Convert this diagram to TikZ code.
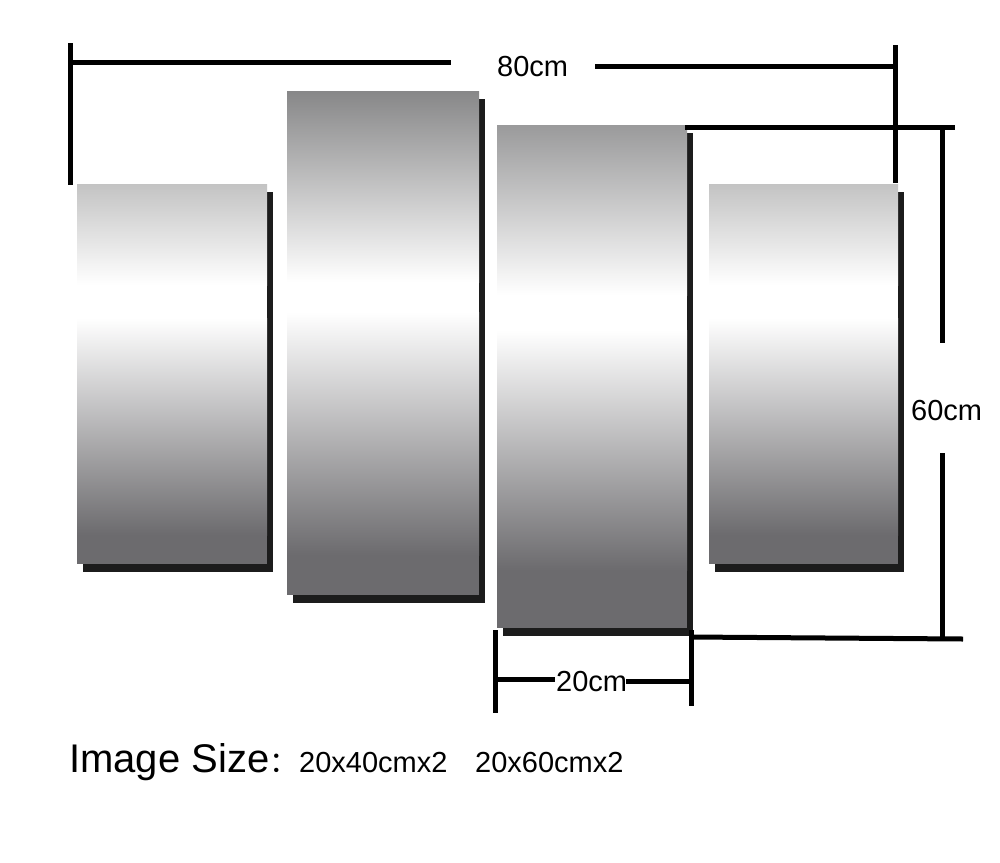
\documentclass[tikz,border=0pt]{standalone}
\usepackage{fontspec}
\usepackage{graphicx}
\setmainfont{Liberation Sans}
\newfontfamily\cjkfont{Noto Sans CJK SC}
\definecolor{shadowc}{HTML}{1C1C1C}
\definecolor{topA}{HTML}{C3C3C3}
\definecolor{topB}{HTML}{878788}
\definecolor{topC}{HTML}{9A9A9B}
\definecolor{darkc}{HTML}{6C6B6E}
\tikzset{
  dimline/.style={line width=5pt, black},
  dimlabel/.style={anchor=base west, inner sep=0pt, font=\fontsize{29}{32}\selectfont},
  sizelabel/.style={anchor=base west, inner sep=0pt, font=\fontsize{29}{32}\selectfont}
}
% panel: left, top, right, bottom, topcolor, whitestart, whiteend, darkstart
\newcommand{\mypanel}[8]{%
  \fill[shadowc] (#1+6,#2+8) rectangle (#3+6,#4+8);
  \shade[top color=#5, bottom color=white] (#1,#2) rectangle (#3,#6);
  \fill[white] (#1,#6-0.5) rectangle (#3,#7+0.5);
  \shade[top color=white, bottom color=darkc] (#1,#7) rectangle (#3,#8);
  \fill[darkc] (#1,#8-0.5) rectangle (#3,#4);
}
\begin{document}
\begin{tikzpicture}[x=1pt,y=-1pt]
\useasboundingbox[fill=white] (0,0) rectangle (1000,862);
% panels
\mypanel{77}{184}{267}{564}{topA}{285}{318}{535}
\mypanel{287}{91}{479}{595}{topB}{282}{312}{555}
\mypanel{497}{125}{687}{628}{topC}{295}{330}{570}
\mypanel{709}{184}{898}{564}{topA}{285}{318}{535}
% named points
\coordinate (tl1) at (70,43);   \coordinate (tl2) at (70,185);
\coordinate (hl1) at (70,62);   \coordinate (hl2) at (451,62);
\coordinate (hr1) at (595,66);  \coordinate (hr2) at (895,66);
\coordinate (tr1) at (895,45);  \coordinate (tr2) at (895,183);
\coordinate (vt1) at (685,127); \coordinate (vt2) at (955,127);
\coordinate (vu1) at (942,127); \coordinate (vu2) at (942,343);
\coordinate (vd1) at (942,453); \coordinate (vd2) at (942,637);
\coordinate (vb1) at (690,637); \coordinate (vb2) at (963,639);
\coordinate (bl1) at (495,630); \coordinate (bl2) at (495,713);
\coordinate (br1) at (691,630); \coordinate (br2) at (691,706);
\coordinate (bh1) at (495,679); \coordinate (bh2) at (555,679);
\coordinate (bh3) at (626,681); \coordinate (bh4) at (691,681);
% dimension lines
\draw[dimline] (tl1) -- (tl2);
\draw[dimline] (hl1) -- (hl2);
\draw[dimline] (hr1) -- (hr2);
\draw[dimline] (tr1) -- (tr2);
\draw[dimline] (vt1) -- (vt2);
\draw[dimline] (vu1) -- (vu2);
\draw[dimline] (vd1) -- (vd2);
\draw[dimline] (vb1) -- (vb2);
\draw[dimline] (bl1) -- (bl2);
\draw[dimline] (br1) -- (br2);
\draw[dimline] (bh1) -- (bh2);
\draw[dimline] (bh3) -- (bh4);
% labels
\node[dimlabel] (l80) at (497,76) {80cm};
\node[dimlabel] (l60) at (911,420) {60cm};
\node[dimlabel] (l20) at (556,691) {20cm};
\node[anchor=base west, inner sep=0pt] (sz) at (69,772) {\fontsize{40}{46}\selectfont Image Size};
\node[anchor=base west, inner sep=0pt] (col) at (sz.base east) {\cjkfont\fontsize{29}{32}\selectfont ：};
\node[sizelabel] (s1) at (299,772) {20x40cmx2};
\node[sizelabel] (s2) at (475,772) {20x60cmx2};
\end{tikzpicture}
\end{document}
